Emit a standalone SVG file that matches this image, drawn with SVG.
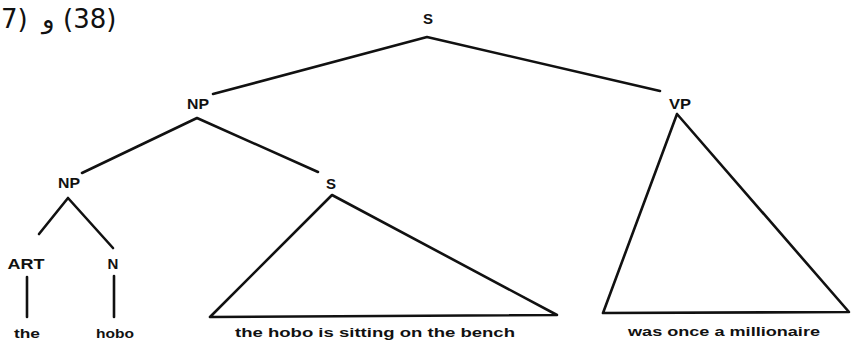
<svg xmlns="http://www.w3.org/2000/svg" width="854" height="343" viewBox="0 0 854 343">
<style>
.lbl{font-family:"Liberation Sans",Arial,sans-serif;font-size:15px;font-weight:bold;fill:#111;text-anchor:middle}
.word{font-family:"Liberation Sans",Arial,sans-serif;font-size:13px;font-weight:bold;fill:#111;text-anchor:middle}
.hd{font-family:"DejaVu Sans","Noto Sans",sans-serif;font-size:26px;fill:#111;direction:ltr;unicode-bidi:bidi-override}
.ln{stroke:#111;stroke-width:2.6;fill:none;stroke-linecap:round;stroke-linejoin:round}
</style>
<rect width="854" height="343" fill="#fff"/>
<g id="heading">
<text class="hd" x="1" y="28">7)</text>
<text class="hd" x="42" y="28" font-size="20">و</text>
<text class="hd" x="63" y="28">(38)</text>
</g>
<g id="connectors">
<polyline class="ln" points="213,94 427,37 660,91"/>
<polyline class="ln" points="82,173 197,118 318,172"/>
<polyline class="ln" points="39,234 68,198 113,248"/>
<line class="ln" x1="27" y1="277" x2="27" y2="317"/>
<line class="ln" x1="114" y1="276" x2="114" y2="317"/>
</g>
<g id="node-S-root"><text class="lbl" x="428" y="24">S</text></g>
<g id="node-NP"><text class="lbl" x="198" y="109" textLength="22" lengthAdjust="spacingAndGlyphs">NP</text></g>
<g id="node-VP"><text class="lbl" x="680" y="109" textLength="22" lengthAdjust="spacingAndGlyphs">VP</text></g>
<g id="node-NP2"><text class="lbl" x="69" y="188" textLength="22" lengthAdjust="spacingAndGlyphs">NP</text></g>
<g id="node-S2"><text class="lbl" x="331" y="189">S</text></g>
<g id="node-ART"><text class="lbl" x="26" y="269" textLength="37" lengthAdjust="spacingAndGlyphs">ART</text></g>
<g id="node-N"><text class="lbl" x="113" y="269">N</text></g>
<g id="node-the"><text class="word" x="27" y="338" textLength="26" lengthAdjust="spacingAndGlyphs">the</text></g>
<g id="node-hobo"><text class="word" x="115" y="338" textLength="38" lengthAdjust="spacingAndGlyphs">hobo</text></g>
<g id="node-S2-tri">
<polygon class="ln" points="332,195 210,317 557,315"/>
<text class="word" x="375" y="337" textLength="280" lengthAdjust="spacingAndGlyphs">the hobo is sitting on the bench</text>
</g>
<g id="node-VP-tri">
<polygon class="ln" points="677,114 603,313 849,312"/>
<text class="word" x="724" y="336" textLength="192" lengthAdjust="spacingAndGlyphs">was once a millionaire</text>
</g>
</svg>
